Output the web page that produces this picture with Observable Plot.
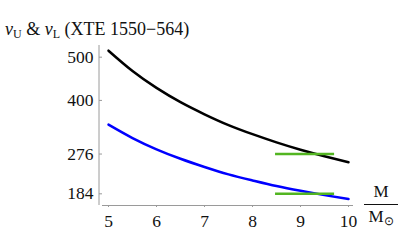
<!DOCTYPE html>
<html>
<head>
<meta charset="utf-8">
<script src="https://cdn.jsdelivr.net/npm/d3@7"></script>
<script src="https://cdn.jsdelivr.net/npm/@observablehq/plot@0.6"></script>
<style>
  html, body { margin: 0; padding: 0; background: #fff; }
  #wrap { position: relative; width: 403px; height: 249px; font-family: "Liberation Serif", "Times New Roman", serif; color: #111; }
  #wrap svg { position: absolute; left: 0; top: 0; }
  .title { position: absolute; left: 5px; top: 20px; font-size: 18px; line-height: 18px; white-space: nowrap; }
  .title sub { font-size: 12px; vertical-align: -3px; line-height: 0; }
  .nu { font-style: italic; }
  .frac { position: absolute; left: 364px; top: 184px; width: 34px; text-align: center; font-size: 17px; line-height: 16px; }
  .frac .num { display: block; padding-bottom: 4px; border-bottom: 1px solid #111; }
  .frac .den { display: block; padding-top: 4px; }
  .frac sub { font-size: 12px; vertical-align: -3px; line-height: 0; }
</style>
</head>
<body>
<div id="wrap">
  <div class="title"><span class="nu">ν</span><sub>U</sub> &amp; <span class="nu">ν</span><sub>L</sub> (XTE 1550−564)</div>
  <div class="frac"><span class="num">M</span><span class="den">M<sub>⊙</sub></span></div>
</div>
<script>
const mass = [5, 5.5, 6, 6.5, 7, 7.5, 8, 8.5, 9, 9.5, 10];
const nuU = [515, 468, 429, 396, 368, 343, 322, 303, 286, 271, 257];
const nuL = [344, 313, 287, 265, 246, 229, 215, 202, 191, 181, 172];
const observedFreq = [276, 184];
const massRange = [8.48, 9.71];
const xTicks = [5, 6, 7, 8, 9, 10];
const yTicks = [500, 400, 276, 184];

const upper = mass.map((m, i) => ({m, v: nuU[i]}));
const lower = mass.map((m, i) => ({m, v: nuL[i]}));
const obs = observedFreq.map(v => ({v, m1: massRange[0], m2: massRange[1]}));

const xDom = [4.875, 10.104];
const yDom = [157, 527];
const axisColor = "#9a9a9a";

const chart = Plot.plot({
  width: 403,
  height: 249,
  marginLeft: 102,
  marginRight: 50,
  marginTop: 45,
  marginBottom: 44,
  x: {domain: xDom},
  y: {domain: yDom},
  style: {fontFamily: "'Liberation Serif', 'Times New Roman', serif", fontSize: "17.5px", background: "transparent", color: "#111"},
  marks: [
    Plot.ruleX([xDom[0]], {dx: -3.5, stroke: axisColor, strokeWidth: 1}),
    Plot.ruleY([yDom[0]], {stroke: axisColor, strokeWidth: 1.2}),
    Plot.axisX({ticks: xTicks, tickFormat: d => String(d), tickSize: 2, tickPadding: 7, stroke: axisColor, label: null, fontSize: 17.5}),
    Plot.axisY({ticks: yTicks, tickFormat: d => String(d), tickSize: 3, tickPadding: 6, stroke: axisColor, label: null, fontSize: 17.5}),
    Plot.line(upper, {x: "m", y: "v", stroke: "#000", strokeWidth: 2.5, curve: "natural"}),
    Plot.line(lower, {x: "m", y: "v", stroke: "#0000ff", strokeWidth: 2.5, curve: "natural"}),
    Plot.ruleY(obs, {y: "v", x1: "m1", x2: "m2", stroke: "#52b521", strokeWidth: 2.5})
  ]
});
document.getElementById("wrap").prepend(chart);
</script>
</body>
</html>
